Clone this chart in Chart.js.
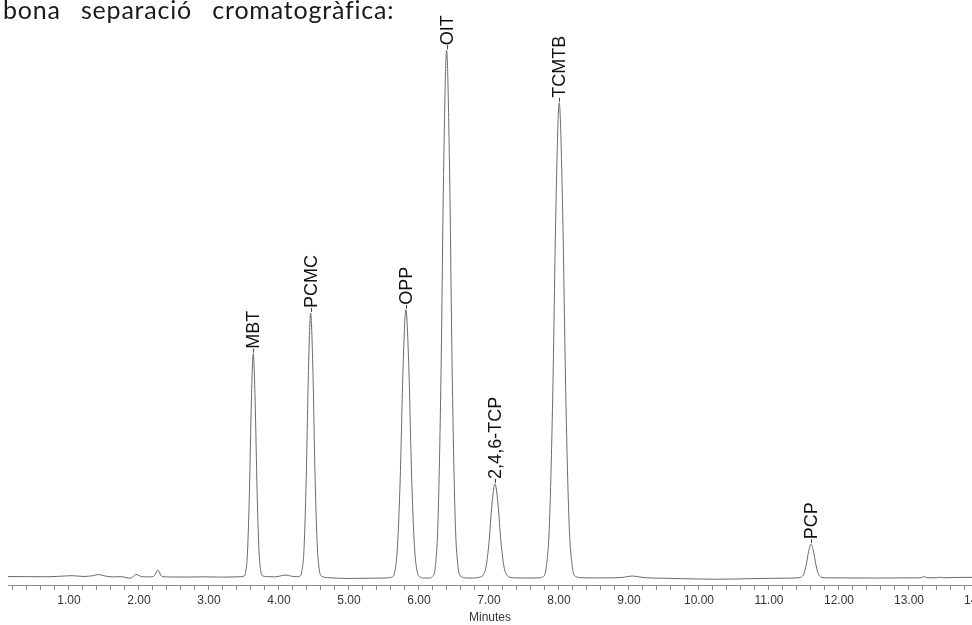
<!DOCTYPE html>
<html>
<head>
<meta charset="utf-8">
<script src="https://cdn.jsdelivr.net/npm/chart.js@4.4.1/dist/chart.umd.min.js"></script>
<style>
  html, body { margin: 0; padding: 0; background: #fff; overflow: hidden; }
  #wrap { position: relative; width: 972px; height: 625px; }
  #title {
    position: absolute; left: 3px; top: -6px; margin: 0;
    font: 25px Lato, "Open Sans", sans-serif; color: #1a1a1a;
    letter-spacing: 0.8px; word-spacing: 13px; white-space: nowrap; z-index: 2;
  }
  canvas { position: absolute; left: 0; top: 0; }
</style>
</head>
<body>
<div id="wrap">
  <p id="title">bona separació cromatogràfica:</p>
  <canvas id="chrom" width="972" height="625"></canvas>
</div>
<script>
// retention time (min) and detector signal (arbitrary units above the axis)
const traceTime = [
  0.13, 0.40, 0.70, 0.95, 1.05, 1.20, 1.35, 1.42, 1.50, 1.62, 1.75, 1.83, 1.88, 1.96, 2.04, 2.15,
  2.20, 2.23, 2.255, 2.27, 2.285, 2.31, 2.34, 2.45, 2.70, 2.95, 3.20, 3.40,
  // MBT
  3.496, 3.524, 3.551, 3.578, 3.606, 3.633, 3.660, 3.688, 3.715, 3.742, 3.770,
  3.85, 3.95, 4.05, 4.10, 4.17, 4.25,
  // PCMC
  4.295, 4.327, 4.359, 4.390, 4.422, 4.453, 4.485, 4.516, 4.548, 4.579, 4.611,
  4.70, 4.85, 5.00, 5.15, 5.30, 5.45, 5.55,
  // OPP
  5.611, 5.652, 5.692, 5.733, 5.773, 5.814, 5.855, 5.895, 5.936, 5.976, 6.017,
  6.08, 6.14,
  // OIT
  6.192, 6.233, 6.273, 6.314, 6.354, 6.395, 6.436, 6.476, 6.517, 6.557, 6.598,
  6.68, 6.76, 6.82,
  // 2,4,6-TCP
  6.873, 6.915, 6.958, 7.001, 7.043, 7.086, 7.129, 7.171, 7.214, 7.257, 7.300,
  7.40, 7.55, 7.70,
  // TCMTB
  7.770, 7.816, 7.863, 7.910, 7.957, 8.004, 8.051, 8.098, 8.145, 8.192, 8.239,
  8.33, 8.50, 8.70, 8.90, 8.98, 9.05, 9.12, 9.25, 9.50, 9.75, 10.00, 10.25, 10.50, 10.75, 11.00, 11.25, 11.38,
  // PCP
  11.429, 11.463, 11.497, 11.531, 11.566, 11.600, 11.634, 11.669, 11.703, 11.737, 11.772,
  11.90, 12.20, 12.50, 12.80, 13.10, 13.18, 13.22, 13.26, 13.40, 13.45, 13.50, 13.70, 13.90
];
const traceSignal = [
  8.7, 8.6, 8.5, 9.3, 9.6, 8.8, 9.6, 10.8, 9.5, 8.4, 8.6, 7.4, 7.0, 10.8, 8.6, 8.4,
  8.6, 10.5, 14.2, 15.3, 14.0, 10.2, 8.6, 8.3, 8.2, 8.4, 8.1, 8.4,
  9.0, 12.9, 33.2, 92.7, 184.3, 233.0, 185.5, 95.0, 35.0, 14.0, 9.3,
  8.6, 8.4, 9.8, 10.2, 9.2, 8.6,
  9.1, 13.8, 37.7, 108.1, 216.4, 274.0, 217.5, 110.0, 39.5, 14.5, 9.0,
  7.6, 7.0, 6.8, 6.9, 7.0, 7.2, 7.4,
  8.1, 12.8, 37.2, 108.7, 218.8, 277.3, 220.0, 111.0, 39.0, 13.5, 8.2,
  7.2, 7.2,
  8.7, 18.0, 65.9, 206.6, 423.3, 538.5, 425.0, 210.0, 68.0, 19.0, 9.0,
  7.3, 7.2, 7.5,
  8.2, 9.9, 18.3, 43.3, 81.6, 102.0, 82.0, 44.0, 18.8, 10.0, 8.0,
  7.3, 7.2, 7.4,
  8.4, 16.9, 59.9, 186.5, 381.4, 485.7, 383.0, 190.0, 62.0, 18.0, 8.8,
  7.5, 7.3, 7.4, 7.8, 8.7, 9.2, 8.6, 7.5, 7.0, 6.6, 6.2, 6.0, 6.2, 6.6, 6.9, 7.1, 7.3,
  7.6, 8.2, 11.2, 20.2, 34.0, 41.3, 34.5, 21.0, 11.8, 8.4, 7.6,
  7.4, 7.3, 7.2, 7.3, 7.4, 7.6, 8.7, 7.5, 7.5, 8.0, 7.5, 7.8, 7.9
];

const peakNames = ['MBT', 'PCMC', 'OPP', 'OIT', '2,4,6-TCP', 'TCMTB', 'PCP'];
const peakTimes = [3.633, 4.453, 5.814, 6.395, 7.086, 8.004, 11.600];

const xMin = 0.13, xMax = 13.9;
const minorStep = 0.2;
const majorLabels = ['1.00', '2.00', '3.00', '4.00', '5.00', '6.00', '7.00',
  '8.00', '9.00', '10.00', '11.00', '12.00', '13.00', '14.00'];

const points = traceTime.map((t, i) => ({ x: t, y: traceSignal[i] }));

// rotated peak names with a short leader line at each apex
const peakLabels = {
  id: 'peakLabels',
  afterDatasetsDraw(chart) {
    const { ctx, scales: { x, y } } = chart;
    ctx.save();
    ctx.font = '18px "Liberation Sans", Arial, sans-serif';
    ctx.fillStyle = '#111';
    ctx.strokeStyle = '#444';
    ctx.lineWidth = 1;
    peakNames.forEach((name, k) => {
      let best = 0;
      points.forEach((p, i) => {
        if (Math.abs(p.x - peakTimes[k]) < Math.abs(points[best].x - peakTimes[k])) best = i;
      });
      const px = Math.round(x.getPixelForValue(points[best].x)) + 0.5;
      const py = y.getPixelForValue(points[best].y);
      ctx.beginPath();
      ctx.moveTo(px, py - 1);
      ctx.lineTo(px, py - 5);
      ctx.stroke();
      ctx.save();
      ctx.translate(px + 1, py - 5);
      ctx.rotate(-Math.PI / 2);
      ctx.textAlign = 'left';
      ctx.textBaseline = 'middle';
      ctx.fillText(name, 0, 0);
      ctx.restore();
    });
    ctx.restore();
  }
};

new Chart(document.getElementById('chrom'), {
  type: 'line',
  data: {
    datasets: [{
      data: points,
      borderColor: '#6a6a6a',
      borderWidth: 1,
      pointRadius: 0,
      fill: false,
      cubicInterpolationMode: 'monotone'
    }]
  },
  options: {
    responsive: false,
    animation: false,
    layout: { padding: { left: 8, right: 0, top: 29, bottom: 0 } },
    plugins: { legend: { display: false }, tooltip: { enabled: false } },
    scales: {
      x: {
        type: 'linear',
        min: xMin,
        max: xMax,
        afterBuildTicks(scale) {
          const ticks = [];
          for (let k = 1; k * minorStep <= 14.001; k++) ticks.push({ value: +(k * minorStep).toFixed(1) });
          scale.ticks = ticks;
        },
        afterFit(scale) { scale.paddingLeft = 0; scale.paddingRight = 0; },
        grid: { drawOnChartArea: false, drawTicks: true, tickLength: 5, color: '#8a8a8a' },
        border: { display: true, color: '#8a8a8a', width: 1 },
        ticks: {
          autoSkip: false,
          maxRotation: 0,
          padding: 3,
          color: '#333',
          font: { family: '"Liberation Sans", Arial, sans-serif', size: 12 },
          callback: (v) => {
            const r = Math.round(v);
            return Math.abs(v - r) < 1e-6 && r >= 1 ? majorLabels[r - 1] : '';
          }
        },
        title: {
          display: true,
          text: 'Minutes',
          color: '#333',
          padding: { top: 0, bottom: 0 },
          font: { family: '"Liberation Sans", Arial, sans-serif', size: 12 }
        }
      },
      y: { display: false, min: 0, max: 560 }
    }
  },
  plugins: [peakLabels]
});
</script>
</body>
</html>
